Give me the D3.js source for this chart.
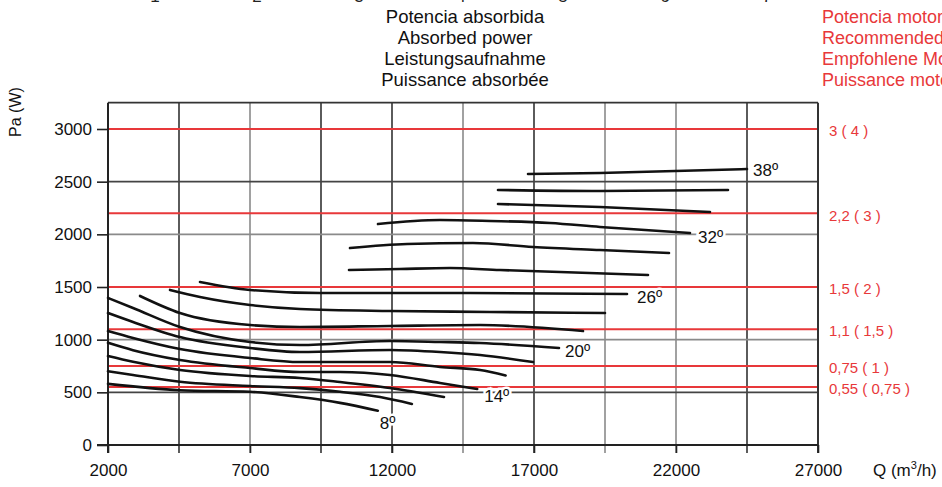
<!DOCTYPE html>
<html>
<head>
<meta charset="utf-8">
<script src="https://cdn.jsdelivr.net/npm/d3@7"></script>
<style>
  html, body { margin: 0; padding: 0; background: #fff; }
  svg { display: block; font-family: "Liberation Sans", Arial, Helvetica, sans-serif; }
</style>
</head>
<body>
<svg id="chart" width="942" height="487"></svg>
<script>
// ---- data ----
const temps = [8, 10, 12, 14, 16, 18, 20, 22, 24, 26, 28, 30, 32, 34, 36, 38];
const curveQ = [
  [2000, 4535, 7000, 8760, 10170, 11500],
  [2000, 2880, 4535, 7000, 8760, 10170, 11580, 12700],
  [2000, 2880, 4535, 7000, 8760, 10170, 11930, 13830],
  [2000, 2880, 4535, 7000, 8760, 10170, 11930, 13690, 15000],
  [2000, 2880, 4535, 7000, 8760, 11930, 13690, 15100, 16000],
  [2000, 2880, 4535, 7000, 8760, 11930, 13690, 15100, 16965],
  [2000, 2880, 4535, 7000, 8760, 11930, 13690, 15100, 17880],
  [3127, 4535, 7000, 8760, 11930, 15100, 18725],
  [4183, 5239, 7000, 8760, 11930, 15450, 19500],
  [5239, 7000, 9465, 14042, 20275],
  [10486, 12282, 14042, 15803, 17915, 21014],
  [10521, 12530, 14852, 16965, 19324, 21754],
  [11507, 13690, 15451, 17563, 19324, 22493],
  [15732, 19324, 23197],
  [15732, 19324, 23831],
  [16789, 19324, 24500]
];
const curvePa = [
  [580, 520, 505, 455, 400, 325],
  [700, 665, 600, 560, 540, 505, 455, 390],
  [845, 790, 712, 655, 636, 598, 541, 456],
  [970, 900, 807, 731, 693, 693, 665, 589, 532],
  [1082, 1016, 911, 826, 788, 788, 741, 712, 660],
  [1253, 1168, 1025, 921, 883, 902, 883, 854, 788],
  [1396, 1301, 1120, 978, 949, 987, 978, 968, 921],
  [1415, 1253, 1139, 1120, 1130, 1139, 1082],
  [1472, 1405, 1329, 1291, 1272, 1263, 1253],
  [1548, 1472, 1443, 1443, 1434],
  [1661, 1671, 1680, 1661, 1642, 1614],
  [1870, 1908, 1918, 1880, 1851, 1823],
  [2098, 2136, 2127, 2108, 2070, 2013],
  [2288, 2259, 2212],
  [2421, 2411, 2421],
  [2573, 2582, 2620]
];
const labeledTemps = [8, 14, 20, 26, 32, 38];
const motorPower = [3000, 2200, 1500, 1100, 750, 550];
const motorLabels = ["3 ( 4 )", "2,2 ( 3 )", "1,5 ( 2 )", "1,1 ( 1,5 )", "0,75 ( 1 )", "0,55 ( 0,75 )"];
const xTicks = [2000, 7000, 12000, 17000, 22000, 27000];
const xGrid = [4500, 7000, 9500, 12000, 14500, 17000, 19500, 22000, 24500];
const xGridDark = [4500, 9500, 12000, 17000, 24500];
const yTicks = [0, 500, 1000, 1500, 2000, 2500, 3000];
const yGrid = [500, 1000, 2000, 2500];
const yGridDark = [500, 2500];
const titleLines = ["Potencia absorbida", "Absorbed power", "Leistungsaufnahme", "Puissance absorbée"];
const redTitleLines = ["Potencia motor recomendada", "Recommended motor power", "Empfohlene Motorleistung", "Puissance moteur recommandée"];
const topRow = ["1", "2", "3", "4", "5", "6", "7"];

// ---- layout ----
const svg = d3.select("#chart");
const x = d3.scaleLinear().domain([2000, 27000]).range([108, 818]);
const y = d3.scaleLinear().domain([0, 3000]).range([445, 129]);
const yTop = y(3250);
const red = "#e8383a";

// top cut row (only its lower edge is visible, as in the reference)
svg.append("g").selectAll("text").data(topRow).join("text")
  .attr("x", (d, i) => 155 + i * 102).attr("y", 2)
  .attr("text-anchor", "middle").attr("font-size", 17).attr("fill", "#222").text(d => d);

// titles
svg.append("g").selectAll("text").data(titleLines).join("text")
  .attr("x", 465).attr("y", (d, i) => 23 + i * 21)
  .attr("text-anchor", "middle").attr("font-size", 18.5).attr("fill", "#111")
  .text(d => d);
svg.append("g").selectAll("text").data(redTitleLines).join("text")
  .attr("x", 822).attr("y", (d, i) => 23 + i * 21)
  .attr("font-size", 18).attr("fill", red).text(d => d);

// gridlines
const grid = svg.append("g");
grid.selectAll("line.vx").data(xGrid).join("line")
  .attr("x1", d => x(d)).attr("x2", d => x(d))
  .attr("y1", yTop).attr("y2", y(0) + 8)
  .attr("stroke", d => xGridDark.includes(d) ? "#333" : "#8a8a8a")
  .attr("stroke-width", 1.6);
grid.selectAll("line.hy").data(yGrid).join("line")
  .attr("x1", x(2000)).attr("x2", x(27000))
  .attr("y1", d => y(d)).attr("y2", d => y(d))
  .attr("stroke", d => yGridDark.includes(d) ? "#444" : "#8a8a8a")
  .attr("stroke-width", 1.6);

// red motor lines
svg.append("g").selectAll("line").data(motorPower).join("line")
  .attr("x1", x(2000)).attr("x2", x(27000))
  .attr("y1", d => y(d)).attr("y2", d => y(d))
  .attr("stroke", red).attr("stroke-width", 2);
svg.append("g").selectAll("text").data(motorPower).join("text")
  .attr("x", x(27000) + 11).attr("y", d => y(d) + 2).attr("dy", "0.35em")
  .attr("font-size", 15).attr("fill", red)
  .text((d, i) => motorLabels[i]);

// frame
svg.append("line").attr("x1", x(2000)).attr("x2", x(27000)).attr("y1", yTop).attr("y2", yTop)
  .attr("stroke", "#333").attr("stroke-width", 1.6);
svg.append("line").attr("x1", x(27000)).attr("x2", x(27000)).attr("y1", yTop).attr("y2", y(0) + 8)
  .attr("stroke", "#333").attr("stroke-width", 2);
svg.append("line").attr("x1", x(2000)).attr("x2", x(2000)).attr("y1", yTop).attr("y2", y(0) + 8)
  .attr("stroke", "#222").attr("stroke-width", 2);

// axes
const xAxis = svg.append("g").attr("transform", `translate(0,${y(0)})`)
  .call(d3.axisBottom(x).tickValues(xTicks).tickFormat(d3.format("d")).tickSize(8).tickPadding(11));
const yAxis = svg.append("g").attr("transform", `translate(${x(2000)},0)`)
  .call(d3.axisLeft(y).tickValues(yTicks).tickFormat(d3.format("d")).tickSize(11).tickPadding(5));
[xAxis, yAxis].forEach(g => {
  g.select(".domain").remove();
  g.selectAll(".tick line").attr("stroke", "#222").attr("stroke-width", 1.6);
  g.selectAll(".tick text").attr("font-size", 17).attr("fill", "#111")
    .attr("font-family", "'Liberation Sans', Arial, sans-serif");
});
svg.append("line").attr("x1", x(2000) - 11).attr("x2", x(27000)).attr("y1", y(0)).attr("y2", y(0))
  .attr("stroke", "#222").attr("stroke-width", 2.2);

svg.append("text").attr("x", 873).attr("y", 476).attr("font-size", 17).attr("fill", "#111")
  .html('Q (m<tspan dy="-7" font-size="11">3</tspan><tspan dy="7">/h)</tspan>');
svg.append("text").attr("transform", "translate(21,112) rotate(-90)")
  .attr("text-anchor", "middle").attr("font-size", 16).attr("fill", "#111").text("Pa (W)");

// curves
const line = d3.line().x(d => x(d[0])).y(d => y(d[1])).curve(d3.curveMonotoneX);
const series = temps.map((t, i) => ({ t, pts: curveQ[i].map((q, j) => [q, curvePa[i][j]]) }));
svg.append("g").selectAll("path").data(series).join("path")
  .attr("d", d => line(d.pts))
  .attr("fill", "none").attr("stroke", "#111").attr("stroke-width", 2.6)
  .attr("stroke-linecap", "round");

// curve labels
const labelOffset = { 8: [2, 12], 14: [7, 7], 20: [6, 3], 26: [10, 3], 32: [8, 4], 38: [6, 1] };
svg.append("g").selectAll("text").data(series.filter(s => labeledTemps.includes(s.t))).join("text")
  .attr("x", d => x(d.pts[d.pts.length - 1][0]) + labelOffset[d.t][0])
  .attr("y", d => y(d.pts[d.pts.length - 1][1]) + labelOffset[d.t][1])
  .attr("dy", "0.35em").attr("font-size", 17).attr("fill", "#111")
  .attr("stroke", "#fff").attr("stroke-width", 5).attr("paint-order", "stroke")
  .text(d => d.t + "º");
</script>
</body>
</html>
